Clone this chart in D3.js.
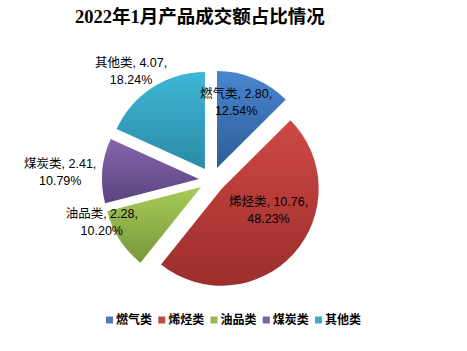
<!DOCTYPE html>
<html><head><meta charset="utf-8">
<script src="https://cdn.jsdelivr.net/npm/d3@7"></script>
<style>body{margin:0;background:#fff}</style>
</head><body>
<svg id="c" width="467" height="351"></svg>
<script>
const categories = ["燃气类","烯烃类","油品类","煤炭类","其他类"];
const values = [2.80, 10.76, 2.28, 2.41, 4.07];
const percents = ["12.54%","48.23%","10.20%","10.79%","18.24%"];
const title = "2022年1月产品成交额占比情况";

const colorsTop = ["#4a86d0","#cf4845","#a8cb57","#8566ad","#3fb6d6"];
const colorsBot = ["#2d5d98","#9b2e2c","#77973a","#5b4480","#2a8ba5"];
const legendColors = ["#4a7ebb","#be4b48","#98b954","#7d60a0","#46aac5"];
// label placement (angle offset deg, radius px) relative to pie center
const labelLayout = [{dA:-5.5,r:82},{dA:-14,r:64},{dA:12,r:118},{dA:-2,r:152},{dA:-3.7,r:136}];

const svg = d3.select("#c");
const W = 467, H = 351;
const cx = 212, cy = 180, R = 97, explode = 13;
const font = "'Liberation Sans','Noto Sans CJK SC',sans-serif";

svg.append("text").attr("x", 200).attr("y", 23).attr("text-anchor","middle")
  .attr("font-family","'Liberation Serif','Noto Sans CJK SC',serif").attr("font-weight","bold")
  .attr("font-size", 18.5).attr("fill","#000").text(title);

const defs = svg.append("defs");
categories.forEach((c,i)=>{
  const g = defs.append("linearGradient").attr("id","g"+i).attr("x1",0).attr("y1",0).attr("x2",0).attr("y2",1);
  g.append("stop").attr("offset","0%").attr("stop-color",colorsTop[i]);
  g.append("stop").attr("offset","100%").attr("stop-color",colorsBot[i]);
});

const pie = d3.pie().sort(null).value(d=>d.v);
const data = pie(categories.map((c,i)=>({c, v:values[i], p:percents[i], i})));
const arc = d3.arc().innerRadius(0).outerRadius(R);

const gp = svg.append("g").attr("transform",`translate(${cx},${cy})`);
data.forEach(d=>{
  const mid = (d.startAngle+d.endAngle)/2;
  const dx = Math.sin(mid)*explode, dy = -Math.cos(mid)*explode;
  gp.append("path").attr("d", arc(d)).attr("transform",`translate(${dx},${dy})`)
    .attr("fill", `url(#g${d.data.i})`);
});
data.forEach(d=>{
  const L = labelLayout[d.data.i];
  const a = (d.startAngle+d.endAngle)/2 + L.dA*Math.PI/180;
  const x = Math.sin(a)*L.r, y = -Math.cos(a)*L.r;
  const t = gp.append("text").attr("text-anchor","middle").attr("font-family",font)
    .attr("font-size",12.5).attr("fill","#000");
  t.append("tspan").attr("x",x).attr("y",y-8.5).attr("dy","0.35em").text(`${d.data.c}, ${d.data.v.toFixed(2)},`);
  t.append("tspan").attr("x",x).attr("y",y+8.5).attr("dy","0.35em").text(d.data.p);
});

// legend
const lx = d3.scalePoint().domain(categories).range([106, 315]);
const lg = svg.append("g");
categories.forEach((c,i)=>{
  lg.append("rect").attr("x", lx(c)).attr("y", 316.5).attr("width",7).attr("height",7).attr("fill",legendColors[i]);
  lg.append("text").attr("x", lx(c)+10).attr("y", 320).attr("dy","0.35em").attr("font-family",font)
    .attr("font-weight","bold").attr("font-size",12).attr("fill","#000").text(c);
});
</script>
</body></html>
